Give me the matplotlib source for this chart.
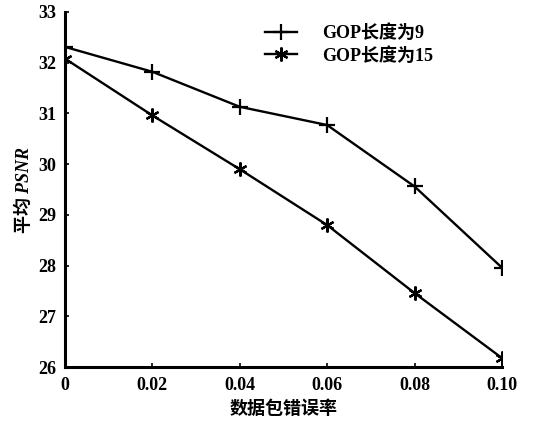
import matplotlib
matplotlib.use("Agg")
import matplotlib.pyplot as plt

error_rate = [0, 0.02, 0.04, 0.06, 0.08, 0.10]
psnr_gop9 = [32.31, 31.82, 31.13, 30.77, 29.56, 27.96]
psnr_gop15 = [32.08, 30.96, 29.90, 28.80, 27.46, 26.18]
x_ticks = [0, 0.02, 0.04, 0.06, 0.08, 0.10]
x_tick_labels = ["0", "0.02", "0.04", "0.06", "0.08", "0.10"]
y_ticks = [26, 27, 28, 29, 30, 31, 32, 33]

plt.rcParams['font.family'] = ['Liberation Serif', 'Noto Sans CJK SC']
plt.rcParams['font.weight'] = 'bold'
plt.rcParams['mathtext.fontset'] = 'custom'
plt.rcParams['mathtext.rm'] = 'Noto Sans CJK SC:bold'
plt.rcParams['mathtext.it'] = 'Liberation Serif:italic:bold'

fig = plt.figure(figsize=(5.45, 4.23), dpi=100)
ax = fig.add_axes([0.119, 0.132, 0.802, 0.840])

ax.plot(error_rate, psnr_gop9, color='black', lw=1.7, marker='+',
        markersize=11, markeredgewidth=1.6, label='GOP长度为9')
ax.plot(error_rate, psnr_gop15, color='black', lw=1.7, marker=(6, 2, 0),
        markersize=10, markeredgewidth=1.6, label='GOP长度为15')

ax.set_xlim(0, 0.10)
ax.set_ylim(26, 33)
ax.set_xticks(x_ticks)
ax.set_xticklabels(x_tick_labels)
ax.set_yticks(y_ticks)
ax.tick_params(direction='in', length=3, width=1.2, labelsize=13)
ax.tick_params(axis='x', pad=7)
ax.tick_params(axis='y', pad=6)

for side in ['top', 'right']:
    ax.spines[side].set_visible(False)
for side in ['left', 'bottom']:
    ax.spines[side].set_linewidth(2.2)

ax.set_xlabel('数据包错误率', fontsize=13, fontweight='bold', labelpad=5)
ax.set_ylabel('$\\mathrm{平均}\\ \\it{PSNR}$', fontsize=13, labelpad=4)

ax.legend(loc='upper left', bbox_to_anchor=(0.42, 1.01), frameon=False,
          fontsize=13, handlelength=1.8, handletextpad=1.4, labelspacing=0.25)

fig.savefig('out.png', dpi=100)
